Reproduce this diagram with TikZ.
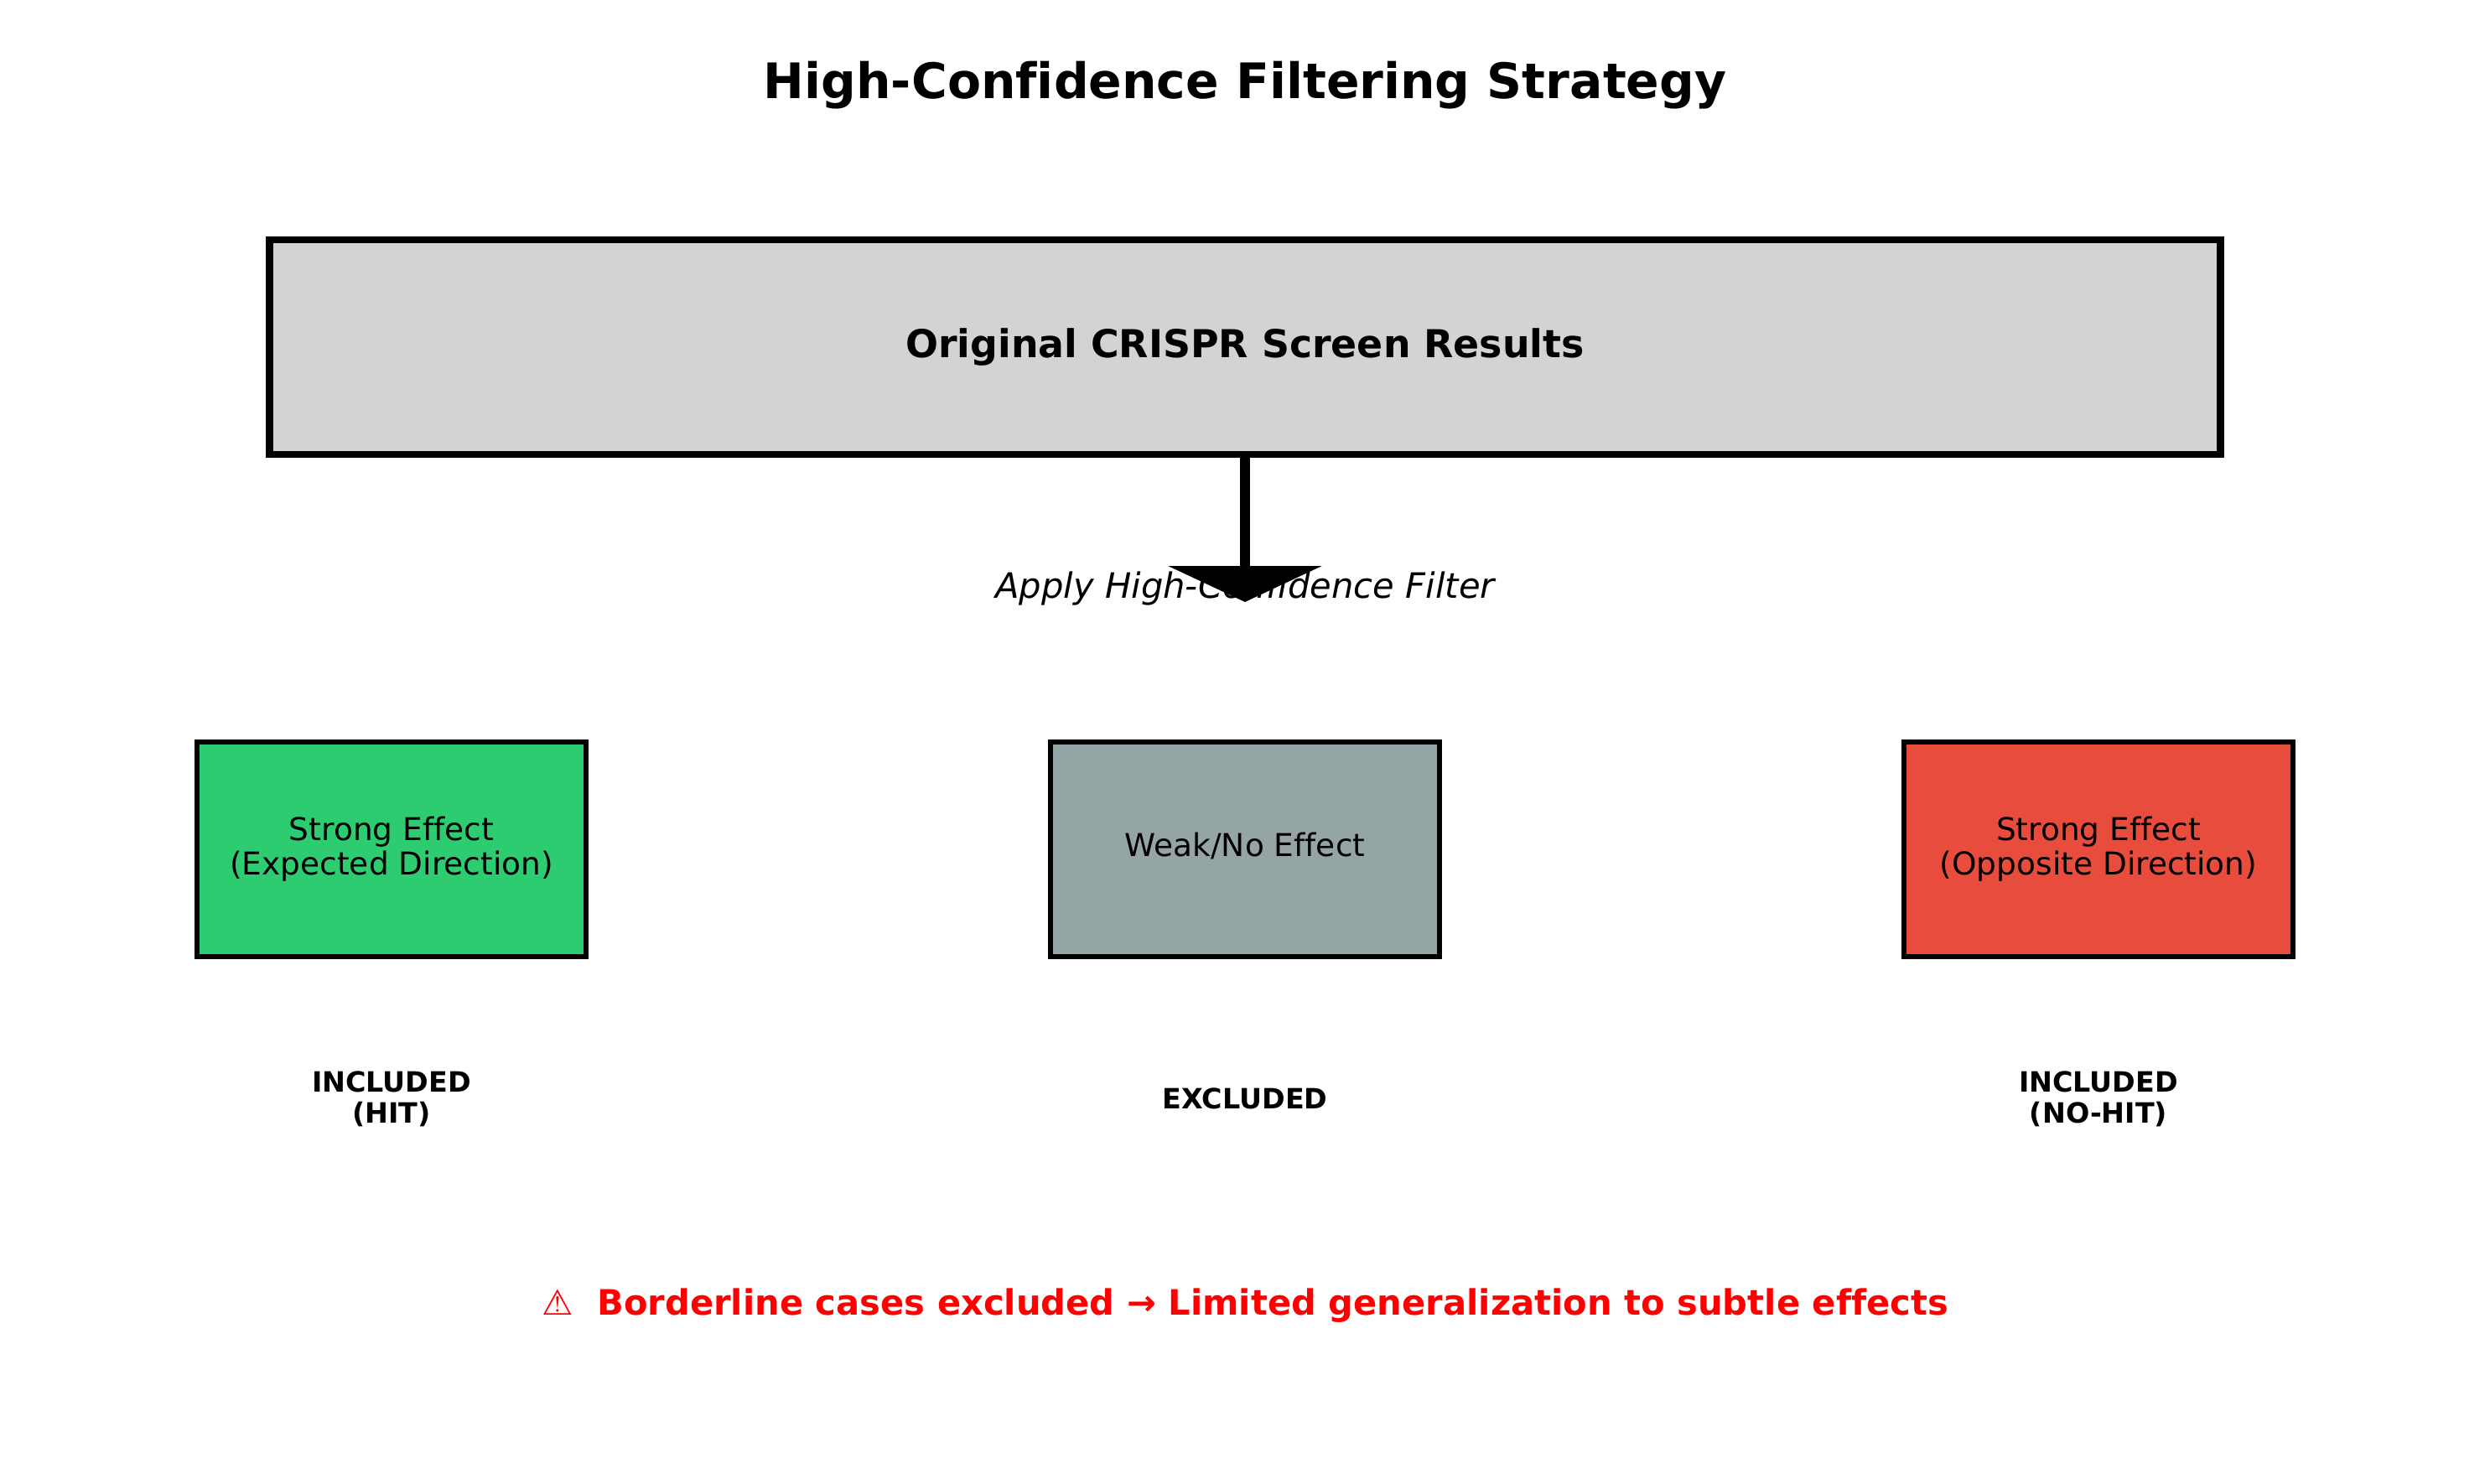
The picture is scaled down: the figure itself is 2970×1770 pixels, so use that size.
\documentclass[tikz,border=0pt]{standalone}
\usepackage{fontspec}
\setmainfont[Ligatures=NoCommon]{DejaVu Sans}
\usetikzlibrary{arrows.meta}
\newcommand*{\fsize}[2]{\fontsize{#1bp}{#2bp}\selectfont}

\begin{document}
\begin{tikzpicture}[x=0.24bp,y=-0.24bp,
  res/.style={draw,line width=1.5bp,minimum width=111.3bp,minimum height=61.4bp,inner sep=0pt,align=center,font=\fsize{9}{9.9}},
  verdict/.style={align=center,font=\fsize{8}{8.8}\bfseries}]
\useasboundingbox(0,0)rectangle(2970,1770);

\definecolor{rawgray}{HTML}{D3D3D3}
\definecolor{hitgreen}{HTML}{2ECC71}
\definecolor{midgray}{HTML}{95A5A6}
\definecolor{nohitred}{HTML}{E74C3C}

\node[font=\fsize{14}{17}\bfseries] (title) at(1485,102){High-Confidence Filtering Strategy};

\node[draw,fill=rawgray,line width=2bp,minimum width=558.5bp,minimum height=61.5bp,font=\fsize{11}{13}\bfseries] (raw) at(1485,414){Original CRISPR Screen Results};

\node[font=\fsize{10}{12}\itshape] (apply) at(1485,702){Apply High-Confidence Filter};
\coordinate (tip) at(1485,718);
\draw[line width=3bp,-{Triangle[width=43.6bp,length=10.3bp]}](raw.south)--(tip);

\node[res,fill=hitgreen] (hit) at(467,1013){Strong Effect\\(Expected Direction)};
\node[res,fill=midgray,text depth=2.7bp] (weak) at(1485,1013){Weak/No Effect};
\node[res,fill=nohitred] (nohit) at(2503,1013){Strong Effect\\(Opposite Direction)};

\node[verdict] (vhit) at(467,1311){INCLUDED\\(HIT)};
\node[verdict] (vweak) at(1485,1310){EXCLUDED};
\node[verdict] (vnohit) at(2503,1311){INCLUDED\\(NO-HIT)};

\node[text=red,font=\fsize{10}{12}\bfseries] (warn) at(1485,1557){⚠\ \ Borderline cases excluded → Limited generalization to subtle effects};

\end{tikzpicture}
\end{document}
